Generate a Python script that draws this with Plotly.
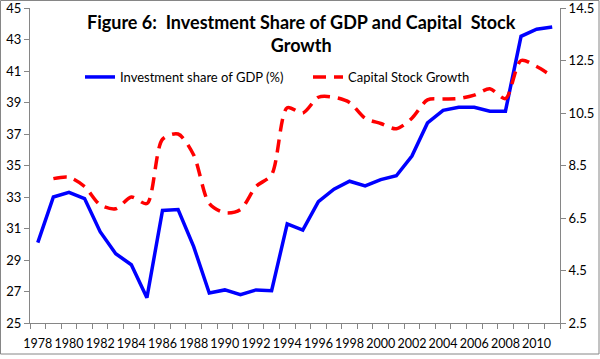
import plotly.graph_objects as go

years = list(range(1978, 2012))
investment_share = [30.1, 33.0, 33.3, 32.9, 30.8, 29.4, 28.7, 26.6, 32.15, 32.2,
                    29.85, 26.9, 27.1, 26.8, 27.1, 27.05, 31.3, 30.9, 32.7, 33.5,
                    34.0, 33.7, 34.1, 34.35, 35.6, 37.7, 38.5, 38.7, 38.7, 38.45,
                    38.45, 43.2, 43.65, 43.8]
capital_growth = [None, 8.0, 8.05, 7.7, 7.0, 6.85, 7.3, 7.05, 9.5, 9.7,
                  8.9, 7.05, 6.7, 6.82, 7.7, 8.15, 10.7, 10.5, 11.1, 11.1,
                  10.9, 10.3, 10.1, 9.9, 10.3, 11.0, 11.03, 11.05, 11.18, 11.42,
                  11.05, 12.5, 12.27, 11.9]
x_tick_labels = [str(y) for y in range(1978, 2011, 2)]
left_ticks = list(range(25, 46, 2))
right_ticks = [2.5, 4.5, 6.5, 8.5, 10.5, 12.5, 14.5]

W, H = 600, 359
ml, mr, mt, mb = 30, 40, 8, 36
pw, ph = W - ml - mr, H - mt - mb

fig = go.Figure()
fig.add_trace(go.Scatter(
    x=years, y=investment_share, name="Investment share of GDP (%)",
    mode="lines", line=dict(color="#0000FF", width=3.5)))
fig.add_trace(go.Scatter(
    x=years, y=capital_growth, name="Capital Stock Growth", yaxis="y2",
    mode="lines", line=dict(color="#FF0000", width=3.5, dash="13px,8px",
                             shape="spline", smoothing=0.8)))

font = "Lato, 'Open Sans', sans-serif"
axis_col = "#868686"

fig.update_layout(
    width=W, height=H,
    margin=dict(l=ml, r=mr, t=mt, b=mb, autoexpand=False),
    paper_bgcolor="white", plot_bgcolor="white",
    font=dict(family=font, size=13, color="#000000"),
    showlegend=True,
    legend=dict(orientation="h", x=(80 - ml) / pw, xanchor="left",
                y=(H - mb - 62) / ph, yanchor="top",
                font=dict(family=font, size=13, color="#000000"),
                bgcolor="rgba(0,0,0,0)", itemwidth=30,
                entrywidth=183, entrywidthmode="pixels"),
    xaxis=dict(range=[1977.5, 2011.5], tickvals=list(range(1978, 2011, 2)),
               ticktext=x_tick_labels, ticks="", showgrid=False, tickangle=0,
               showline=True, linecolor=axis_col, linewidth=1,
               tickfont=dict(size=12.5), zeroline=False, automargin=False,
               ticklabeloverflow="allow", ticklabelstandoff=9,
               minor=dict(tick0=1977.5, dtick=1, ticks="outside", ticklen=5,
                          tickcolor=axis_col, showgrid=False)),
    yaxis=dict(range=[25, 45], tickvals=left_ticks, showgrid=False,
               zeroline=False, showline=True, linecolor=axis_col, linewidth=1,
               ticks="outside", ticklen=5, tickcolor=axis_col, automargin=False,
               ticklabeloverflow="allow", tickfont=dict(size=13)),
    yaxis2=dict(range=[2.5, 14.5], tickvals=right_ticks,
                ticktext=[f"{v:.1f}" for v in right_ticks],
                overlaying="y", side="right", showgrid=False, zeroline=False,
                showline=True, linecolor=axis_col, linewidth=1, automargin=False,
                ticks="outside", ticklen=5, tickcolor=axis_col,
                ticklabeloverflow="allow", tickfont=dict(size=13)),
)

fig.add_annotation(
    text="<b>Figure 6:  Investment Share of GDP and Capital  Stock<br>Growth</b>",
    xref="paper", yref="paper", x=(301 - ml) / pw, xanchor="center",
    y=(H - mb - 9) / ph, yanchor="top", showarrow=False, align="center",
    font=dict(family=font, size=18, color="#000000"))

# outer chart frame
fig.add_shape(type="rect", xref="paper", yref="paper",
              x0=(0.5 - ml) / pw, x1=(599 - ml) / pw,
              y0=(H - mb - 354) / ph, y1=(H - mb - 0.5) / ph,
              line=dict(color="#868686", width=1), fillcolor="rgba(0,0,0,0)",
              layer="above")

fig.write_html("out.html", config={"displayModeBar": False},
               post_script="document.body.style.margin='0';document.body.style.padding='0';")
